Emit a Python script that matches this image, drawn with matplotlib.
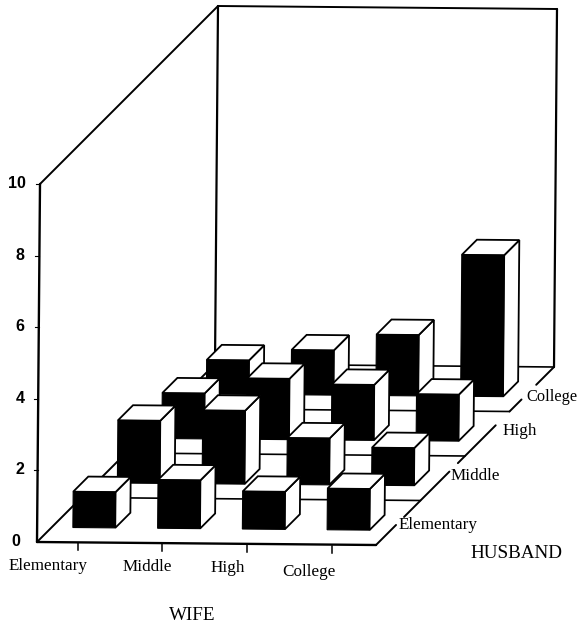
import matplotlib
matplotlib.use("Agg")
import matplotlib.pyplot as plt
from matplotlib.patches import Polygon

wife_labels = ["Elementary", "Middle", "High", "College"]
husband_labels = ["Elementary", "Middle", "High", "College"]
z_ticks = [0, 2, 4, 6, 8, 10]

# rows = husband (front to back), columns = wife
row_elementary = [1.0, 1.35, 1.05, 1.15]
row_middle = [1.75, 2.05, 1.3, 1.05]
row_high = [1.27, 1.7, 1.55, 1.3]
row_college = [0.95, 1.25, 1.7, 3.95]
heights = [row_elementary, row_middle, row_high, row_college]

# oblique projection, chart units -> picture pixels
ORIGIN = (37.0, 542.0)
WIFE_VEC = (84.75, 0.75)
HUSB_VEC = (44.5, -44.5)
Z_VEC = (0.3, -35.8)

BAR_W = 0.5
BAR_D = 0.34
ZMAX = 10


def project(w, h, z=0):
    x = ORIGIN[0] + w * WIFE_VEC[0] + h * HUSB_VEC[0] + z * Z_VEC[0]
    y = ORIGIN[1] + w * WIFE_VEC[1] + h * HUSB_VEC[1] + z * Z_VEC[1]
    return x, y


def line3(ax, a, b, lw=1.4):
    pa, pb = project(*a), project(*b)
    ax.plot([pa[0], pb[0]], [pa[1], pb[1]], color="black", lw=lw,
            solid_capstyle="round", zorder=1)


def draw_bar(ax, wife, husb, val):
    w0, w1 = wife + 0.25, wife + 0.25 + BAR_W
    h0, h1 = husb + 0.33, husb + 0.33 + BAR_D
    front = [project(w0, h0), project(w1, h0), project(w1, h0, val), project(w0, h0, val)]
    side = [project(w1, h0), project(w1, h1), project(w1, h1, val), project(w1, h0, val)]
    top = [project(w0, h0, val), project(w1, h0, val), project(w1, h1, val), project(w0, h1, val)]
    ax.add_patch(Polygon(side, facecolor="white", edgecolor="black", lw=1.3, zorder=2))
    ax.add_patch(Polygon(top, facecolor="white", edgecolor="black", lw=1.3, zorder=2))
    ax.add_patch(Polygon(front, facecolor="black", edgecolor="black", lw=0.8, zorder=2))


fig = plt.figure(figsize=(5.77, 6.28), dpi=100, facecolor="white")
ax = fig.add_axes([0, 0, 1, 1])
ax.set_xlim(0, 577)
ax.set_ylim(628, 0)
ax.axis("off")

# walls
line3(ax, (0, 0, 0), (0, 0, ZMAX), lw=1.7)
line3(ax, (0, 0, ZMAX), (0, 4, ZMAX))
line3(ax, (0, 4, 0), (0, 4, ZMAX), lw=1.6)
line3(ax, (0, 4, ZMAX), (4, 4, ZMAX))
line3(ax, (4, 4, 0), (4, 4, ZMAX), lw=1.6)

# floor
line3(ax, (0, 0, 0), (4, 0, 0), lw=1.7)
line3(ax, (0, 0, 0), (0, 4, 0))
for h in [1, 2, 3, 4]:
    line3(ax, (0, h, 0), (4, h, 0), lw=1.2)

# right floor edge is broken where the husband labels sit
edge_runs = [(0, 0.45), (0.63, 1.65), (1.84, 2.69), (3.0, 3.27), (3.6, 4)]
for a, b in edge_runs:
    line3(ax, (4, a, 0), (4, b, 0))

for husb in range(3, -1, -1):
    for wife in range(4):
        draw_bar(ax, wife, husb, heights[husb][wife])

# ticks
for i in range(4):
    x, y = project(i + 0.48, 0)
    ax.plot([x, x], [y + 1, y + 8], color="black", lw=1.1)
for z in z_ticks[1:]:
    x, y = project(0, 0, z)
    ax.plot([x - 4, x], [y, y], color="black", lw=0.8)

tick_font = {"family": "Liberation Sans", "fontweight": "bold", "fontsize": 11.5}
z_label_x = [16, 20, 20, 20, 20, 17]
for z, lx in zip(z_ticks, z_label_x):
    ax.text(lx, project(0, 0, z)[1] - 0.5, str(z), ha="center", va="center", **tick_font)

serif = {"family": "Liberation Serif", "color": "black"}
wife_x = [48, 147, 228, 309]
wife_y = [566, 567, 568, 572]
for name, x, y in zip(wife_labels, wife_x, wife_y):
    ax.text(x, y, name, ha="center", va="center", fontsize=12.3, **serif)

husb_x = [399, 451, 503, 526]
husb_y = [525, 476, 431, 397]
husb_size = [12.3, 12.3, 12.3, 11.8]
for name, x, y, s in zip(husband_labels, husb_x, husb_y, husb_size):
    ax.text(x, y, name, ha="left", va="center", fontsize=s, **serif)

ax.text(516, 554, "HUSBAND", ha="center", va="center", fontsize=13.8, **serif)
ax.text(192, 615, "WIFE", ha="center", va="center", fontsize=13.8, **serif)

fig.savefig("out.png", dpi=100, facecolor="white")
